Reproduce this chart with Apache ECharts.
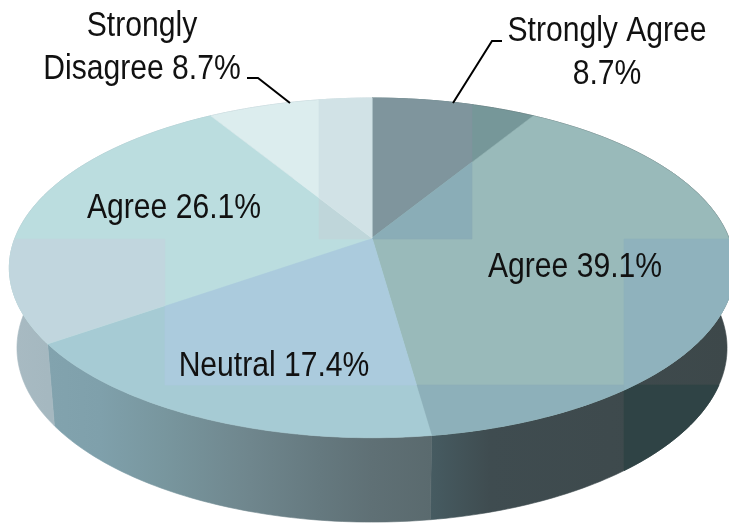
<!DOCTYPE html>
<html><head><meta charset="utf-8">
<style>html,body{margin:0;padding:0;background:#fff}#c{width:729px;height:523px}</style>
<script src="https://cdn.jsdelivr.net/npm/echarts@6/dist/echarts.min.js"></script>
</head><body><div id="c"></div>
<script>
const categories = ['Strongly Agree', 'Agree', 'Neutral', 'Agree', 'Strongly Disagree'];
const shares = [8.7, 39.1, 17.4, 26.1, 8.7];
const topColors = ['#769799', '#99BABA', '#A6CBD4', '#BBDDDF', '#DCEDEE'];
const topPatches = [
  [[319, 472, 0, 239, '#7F959D']],
  [[319, 472, 0, 239, '#8AADB7'], [624, 800, 239, 600, '#8FB2BD'], [0, 624, 385, 600, '#8DB0BA']],
  [[165, 800, 239, 385, '#ABCBDD']],
  [[0, 165, 239, 385, '#C1D6DE'], [319, 472, 0, 239, '#BFD6DA']],
  [[319, 472, 0, 239, '#D1E2E6']]
];
const wallStops = [
  [[0, '#A9BBC3'], [48, '#A5B8C0']],
  [[48, '#82A3AE'], [100, '#7FA0AB'], [165, '#78969E'], [250, '#6F868D'], [320, '#65797F'], [372, '#5F7075'], [432, '#5A6A6E']],
  [[432, '#465B61'], [490, '#3F4C50'], [729, '#3D484A']]
];
const wallIndexOfSlice = [2, 2, 1, 0, 0];
const wallPatches = [[], [[624, 800, 385, 600, '#2F4345']], [], [], []];

// Perspective projection of the pie's rim circles
const W = 729;
const rimTop = { cx: 372, R: 357, a: 122.7, b: 238, k: 0.176 };
const rimBottom = { cx: 372, R: 349.5, a: 112.8, b: 317.4, k: 0.176 };
function project(rim, deg) {
  const t = deg * Math.PI / 180, s = Math.sin(t), v = Math.cos(t), w = 1 + rim.k * v;
  return [rim.cx + rim.R * s / w, (rim.b - rim.a * v) / w];
}
function arc(rim, from, to) {
  const n = Math.max(2, Math.ceil(Math.abs(to - from))), pts = [];
  for (let i = 0; i <= n; i++) pts.push(project(rim, from + (to - from) * i / n));
  return pts;
}
function clip(poly, x0, x1, y0, y1) {
  const edges = [
    [p => p[0] >= x0, (a, b) => { const t = (x0 - a[0]) / (b[0] - a[0]); return [x0, a[1] + t * (b[1] - a[1])]; }],
    [p => p[0] <= x1, (a, b) => { const t = (x1 - a[0]) / (b[0] - a[0]); return [x1, a[1] + t * (b[1] - a[1])]; }],
    [p => p[1] >= y0, (a, b) => { const t = (y0 - a[1]) / (b[1] - a[1]); return [a[0] + t * (b[0] - a[0]), y0]; }],
    [p => p[1] <= y1, (a, b) => { const t = (y1 - a[1]) / (b[1] - a[1]); return [a[0] + t * (b[0] - a[0]), y1]; }]
  ];
  let out = poly;
  for (const [inside, cross] of edges) {
    const src = out; out = [];
    for (let i = 0; i < src.length; i++) {
      const a = src[i], b = src[(i + 1) % src.length];
      if (inside(a)) { out.push(a); if (!inside(b)) out.push(cross(a, b)); }
      else if (inside(b)) out.push(cross(a, b));
    }
    if (!out.length) break;
  }
  return out;
}
function angles(i) {
  const sum = shares.reduce((a, b) => a + b, 0);
  let acc = 0;
  for (let j = 0; j < i; j++) acc += shares[j];
  return [acc / sum * 360, (acc + shares[i]) / sum * 360];
}
function poly(points, fill) {
  return { type: 'polygon', shape: { points }, style: { fill, stroke: fill, lineWidth: 0.6 } };
}
function patched(base, fill, patches) {
  const kids = [poly(base, fill)];
  for (const p of patches) {
    const c = clip(base, p[0], p[1], p[2], p[3]);
    if (c.length > 2) kids.push(poly(c, p[4]));
  }
  return { type: 'group', children: kids };
}
function wallGradient(stops) {
  return new echarts.graphic.LinearGradient(0, 0, W, 0,
    stops.map(s => ({ offset: s[0] / W, color: s[1] })), true);
}
function renderWall(params, api) {
  const i = api.value(0), [a, b] = angles(i);
  const base = arc(rimTop, a, b).concat(arc(rimBottom, b, a));
  return patched(base, wallGradient(wallStops[wallIndexOfSlice[i]]), wallPatches[i]);
}
function renderTop(params, api) {
  const i = api.value(0), [a, b] = angles(i);
  const base = [[rimTop.cx, rimTop.b]].concat(arc(rimTop, a, b));
  return patched(base, topColors[i], topPatches[i]);
}
const rows = shares.map((s, i) => [i, s, categories[i]]);
const font = '"Liberation Sans",Arial,sans-serif';
function label(text, x, y) {
  return { type: 'text', x, y, scaleX: 0.86, z: 20, style: { text, fill: '#111', font: '35px ' + font, textAlign: 'center', textVerticalAlign: 'bottom', lineHeight: 43 } };
}
function leader(points) {
  return { type: 'polyline', z: 20, shape: { points }, style: { stroke: '#000', lineWidth: 2, fill: null } };
}
const chart = echarts.init(document.getElementById('c'), null, { renderer: 'canvas' });
chart.setOption({
  animation: false,
  backgroundColor: '#fff',
  series: [
    { type: 'custom', coordinateSystem: 'none', z: 1, silent: true, data: rows, renderItem: renderWall, clip: false },
    { type: 'custom', coordinateSystem: 'none', z: 2, silent: true, data: rows, renderItem: renderTop, clip: false }
  ],
  graphic: { elements: [
    label('Strongly\nDisagree ' + shares[4] + '%', 142, 91),
    label('Strongly Agree\n' + shares[0] + '%', 607, 96),
    label('Agree ' + shares[3] + '%', 174, 230),
    label('Agree ' + shares[1] + '%', 575, 289),
    label('Neutral ' + shares[2] + '%', 274, 388),
    leader([[247, 78], [258, 78], [290, 103]]),
    leader([[453, 103], [492, 41], [502, 41]])
  ] }
});
</script></body></html>
